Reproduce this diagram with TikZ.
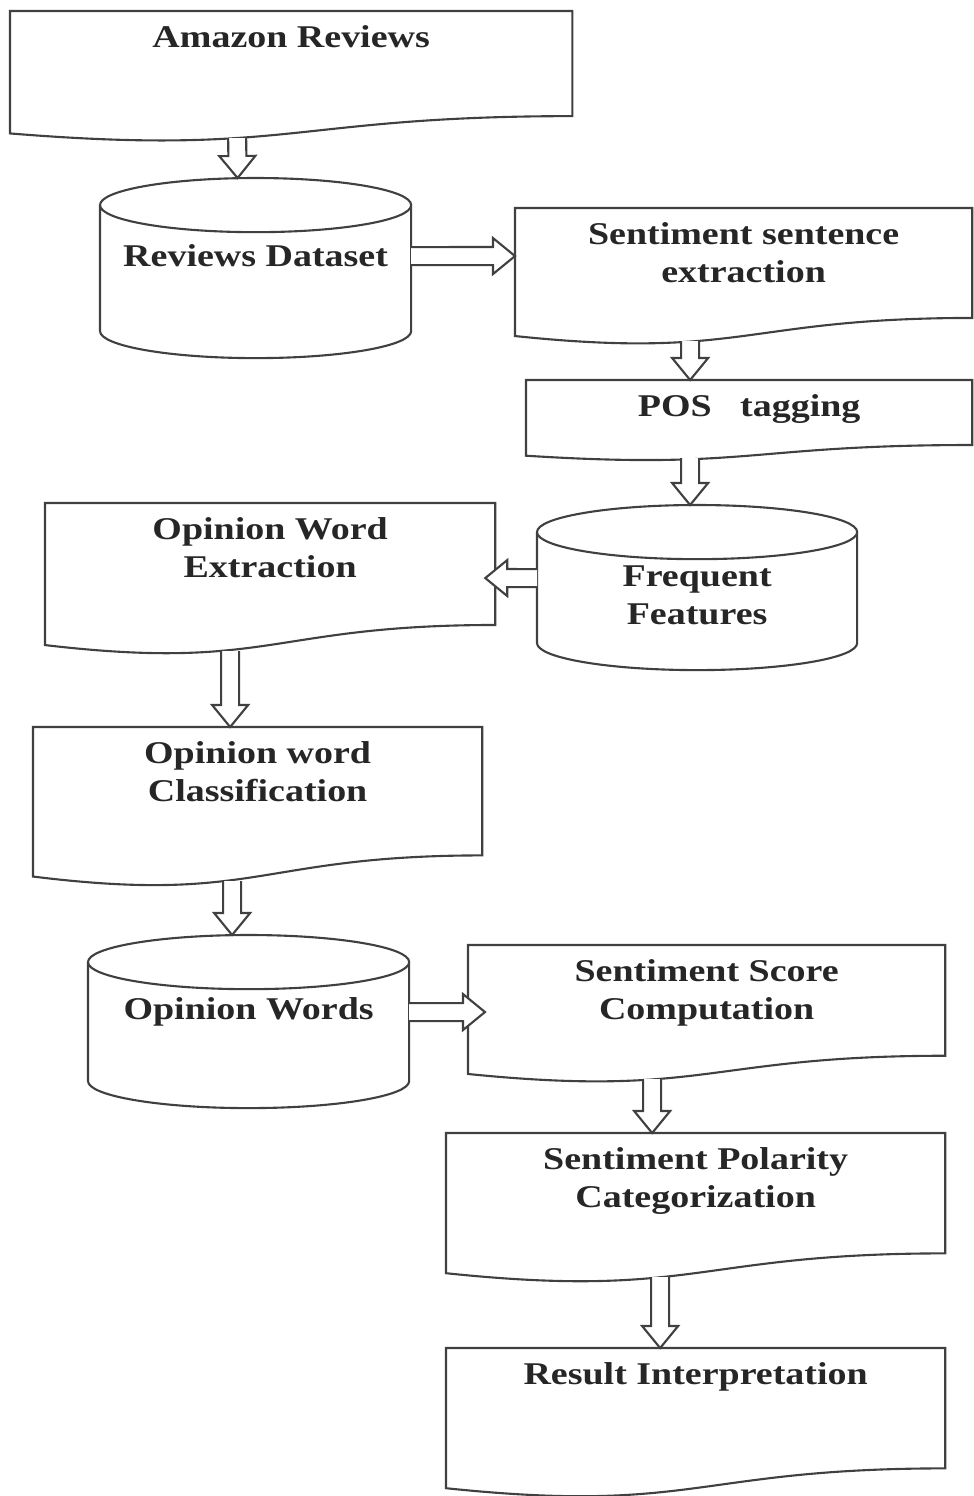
\documentclass[tikz,border=0pt]{standalone}
\usepackage{fontspec}
\setmainfont{Liberation Serif}[FakeStretch=1.2]
\usetikzlibrary{positioning, calc}

\newcommand{\docoutline}[1]{%
  \draw[outline] let \p1=(#1.north west), \p2=(#1.south east), \n1={\y1-\y2} in
    (\p1) -- (\x2,\y1) -- (\x2,{\y1-0.802*\n1})
    .. controls ({(\x1+\x2)/2},{\y1-0.802*\n1}) and ({(\x1+\x2)/2},{\y1-1.108*\n1}) ..
    (\x1,{\y1-0.934*\n1}) -- cycle;}
\newcommand{\cyloutline}[1]{%
  \draw[outline] let \p1=(#1.north west), \p2=(#1.south east), \n1={(\x2-\x1)/2}, \n2={7.7pt} in
    ({\x1+\n1},{\y1-\n2}) ellipse [x radius=\n1, y radius=\n2]
    (\x1,{\y1-\n2}) -- (\x1,{\y2+\n2}) arc [start angle=180, end angle=360, x radius=\n1, y radius=\n2]
    -- (\x2,{\y1-\n2});}

\begin{document}
\begin{tikzpicture}[x=0.01cm, y=-0.01cm,
    outline/.style={draw=black!75, line width=0.6pt},
    box/.style={anchor=north west, inner sep=0pt, outer sep=0pt},
    lbl/.style={font=\fontsize{9}{10.8}\selectfont\bfseries, align=center, inner sep=0pt, text=black!85},
    blk/.style={draw=black!75, line width=0.6pt, fill=white, to path={
      let \p1=(\tikztostart), \p2=(\tikztotarget), \p3=($(\p2)!0.22cm!(\p1)$) in
      ($(\p1)!0.09cm!90:(\p2)$) -- ($(\p3)!0.09cm!90:(\p2)$) -- ($(\p3)!0.18cm!90:(\p2)$)
      -- (\p2) -- ($(\p3)!0.18cm!-90:(\p2)$) -- ($(\p3)!0.09cm!-90:(\p2)$) -- ($(\p1)!0.09cm!-90:(\p2)$)}}]
  \useasboundingbox (0,0) rectangle (974,1496);

  \node[box, minimum width=5.62cm, minimum height=1.31cm] (amazon) at (10,11) {};
  \node[box, minimum width=3.11cm, minimum height=1.80cm] (dataset) at (100,178) {};
  \node[box, minimum width=4.57cm, minimum height=1.37cm] (sentext) at (515,208) {};
  \node[box, minimum width=4.46cm, minimum height=0.81cm] (pos) at (526,380) {};
  \node[box, minimum width=3.20cm, minimum height=1.65cm] (freq) at (537,505) {};
  \node[box, minimum width=4.50cm, minimum height=1.52cm] (opext) at (45,503) {};
  \node[box, minimum width=4.49cm, minimum height=1.60cm] (opcls) at (33,727) {};
  \node[box, minimum width=3.21cm, minimum height=1.73cm] (opwords) at (88,935) {};
  \node[box, minimum width=4.77cm, minimum height=1.38cm] (score) at (468,945) {};
  \node[box, minimum width=4.99cm, minimum height=1.50cm] (polar) at (446,1133) {};
  \node[box, minimum width=4.99cm, minimum height=1.50cm] (result) at (446,1348) {};

  \docoutline{amazon}
  \cyloutline{dataset}
  \docoutline{sentext}
  \docoutline{pos}
  \cyloutline{freq}
  \docoutline{opext}
  \docoutline{opcls}
  \cyloutline{opwords}
  \docoutline{score}
  \docoutline{polar}
  \docoutline{result}

  \node[lbl, below=0.14cm of amazon.north] (amazon-t) {Amazon Reviews};
  \node[lbl, below=0.66cm of dataset.north] (dataset-t) {Reviews Dataset};
  \node[lbl, below=0.14cm of sentext.north] (sentext-t) {Sentiment sentence\\extraction};
  \node[lbl, below=0.14cm of pos.north] (pos-t) {POS~~~tagging};
  \node[lbl, below=0.60cm of freq.north] (freq-t) {Frequent\\Features};
  \node[lbl, below=0.14cm of opext.north] (opext-t) {Opinion Word\\Extraction};
  \node[lbl, below=0.14cm of opcls.north] (opcls-t) {Opinion word\\Classification};
  \node[lbl, below=0.62cm of opwords.north] (opwords-t) {Opinion Words};
  \node[lbl, below=0.14cm of score.north] (score-t) {Sentiment Score\\Computation};
  \node[lbl, below=0.14cm of polar.north] (polar-t) {Sentiment Polarity\\Categorization};
  \node[lbl, below=0.14cm of result.north] (result-t) {Result Interpretation};

  \draw[blk] ($(amazon.south)+(-54,-4)$) to ($(dataset.north)+(-18,0)$);
  \draw[blk] ($(dataset.east)+(0,-12)$) to ($(sentext.west)+(0,-20.5)$);
  \draw[blk] ($(sentext.south)+(-53.5,-4)$) to ($(pos.north)+(-59,0)$);
  \draw[blk] ($(pos.south)+(-59,-3)$) to ($(freq.north)+(-7,0)$);
  \draw[blk] ($(freq.west)+(0,-9.5)$) to ($(opext.east)+(-10,-1)$);
  \draw[blk] ($(opext.south)+(-40,-4)$) to ($(opcls.north)+(-27.5,0)$);
  \draw[blk] ($(opcls.south)+(-25.5,-6)$) to ($(opwords.north)+(-16.5,0)$);
  \draw[blk] ($(opwords.east)+(0,-9.5)$) to ($(score.west)+(17,-2)$);
  \draw[blk] ($(score.south)+(-54.5,-4)$) to ($(polar.north)+(-43.5,0)$);
  \draw[blk] ($(polar.south)+(-35.5,-6)$) to ($(result.north)+(-35.5,0)$);
\end{tikzpicture}
\end{document}
